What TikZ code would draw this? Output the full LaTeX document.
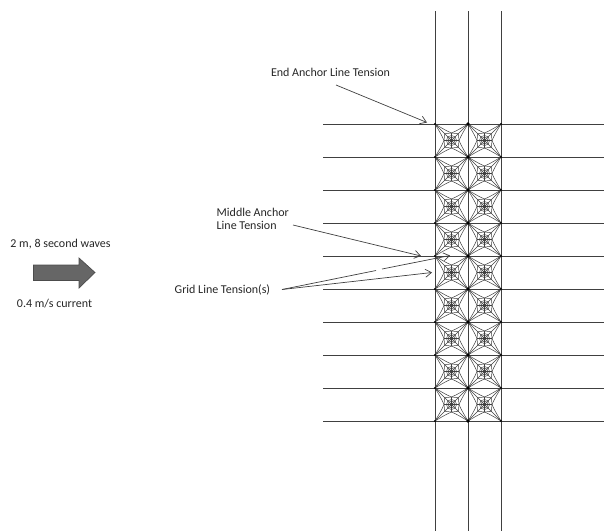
\documentclass[tikz,border=0pt]{standalone}
\usepackage{fontspec}
\setmainfont{Carlito}
\usetikzlibrary{arrows.meta}
\definecolor{ln}{HTML}{404040}
\definecolor{txt}{HTML}{262626}
\definecolor{flow}{HTML}{666666}
\tikzset{
  x=1pt,y=1pt,
  grid/.style={draw=ln,line width=1pt},
  web/.style={draw=ln,line width=0.5pt},
  lead/.style={draw=ln,line width=0.7pt,-{Straight Barb[length=6pt,width=8pt,line width=0.7pt]}},
  leadplain/.style={draw=ln,line width=0.7pt},
  lbl/.style={font=\fontsize{12}{13}\selectfont,text=txt,inner sep=0pt,align=left},
  knot/.style={circle,fill=black,inner sep=0pt,minimum size=#1}
}
\begin{document}
\begin{tikzpicture}
\useasboundingbox (0,0) rectangle (605,-531);
% verticals
\foreach \i/\x in {a/435,b/468,c/501}{
  \coordinate (\i top) at (\x,-11);
  \coordinate (\i bot) at (\x,-531);
  \draw[grid] (\i top) -- (\i bot);
}
% horizontals
\foreach \j in {0,...,9}{
  \coordinate (hl\j) at (323,-124-33*\j);
  \coordinate (hr\j) at (604,-124-33*\j);
  \draw[grid] (hl\j) -- (hr\j);
}
% cell webs
\foreach \cx in {451.5,484.5}{
\foreach \k in {0,...,8}{
\begin{scope}[shift={(\cx,-140.5-33*\k)}]
  \foreach \r in {0,90,180,270}{
  \begin{scope}[rotate=\r]
    \draw[web] (16.5,16.5) -- (0,0);
    \draw[web] (7.5,0) -- (0,0);
    \draw[web] (1.6,0) -- (1.2,1.2) -- (0,1.6);
    \draw[web] (3.2,0) -- (2.4,2.4) -- (0,3.2);
    \draw[web] (5,0) -- (3.7,3.7) -- (0,5);
    \draw[web] (7.5,0) .. controls (7.3,2.5) and (7,4.5) .. (6.8,6.8) .. controls (4.5,7) and (2.5,7.3) .. (0,7.5);
    \draw[web] (16.5,16.5) .. controls (13.5,11.5) and (10,6) .. (7.5,0);
    \draw[web] (16.5,16.5) .. controls (11.5,13.5) and (6,10) .. (0,7.5);
  \end{scope}
  }
\end{scope}
}}
% knots
\foreach \k in {0,...,9}{
  \node[knot=2.4pt] (kl\k) at (435,-124-33*\k) {};
  \node[knot=3.6pt] (km\k) at (468,-124-33*\k) {};
  \node[knot=2.4pt] (kr\k) at (501,-124-33*\k) {};
}
% labels
\node[lbl,anchor=center] (tEnd) at (330.5,-72.5) {End Anchor Line Tension};
\node[lbl,anchor=west] (tMid) at (216.5,-219) {Middle Anchor\\Line Tension};
\node[lbl,anchor=west] (tGrid) at (174.5,-289.5) {Grid Line Tension(s)};
\node[lbl,anchor=center] (tWave) at (60.5,-244.5) {2 m, 8 second waves};
\node[lbl,anchor=center] (tCur) at (54.5,-304) {0.4 m/s current};
% leaders
\coordinate (eEnd) at (427,-122.5);
\coordinate (sEnd) at (336,-85);
\coordinate (sMid) at (293,-225);
\coordinate (eMid) at (421,-256);
\coordinate (sGrid) at (282,-289.5);
\coordinate (gapA) at (376,-270.5);
\coordinate (gapB) at (382,-269);
\coordinate (eGridA) at (450,-255.5);
\coordinate (eGridB) at (432,-272.5);
\draw[lead] (sEnd) -- (eEnd);
\draw[lead] (sMid) -- (eMid);
\draw[leadplain] (sGrid) -- (gapA);
\draw[lead] (gapB) -- (eGridA);
\draw[lead] (sGrid) -- (eGridB);
% flow arrow
\draw[draw=flow!75!black,line width=0.7pt,fill=flow]
  (33.5,-265) -- (79,-265) -- (79,-258) -- (95,-272.5) -- (79,-288) -- (79,-280.5) -- (33.5,-280.5) -- cycle;
\end{tikzpicture}
\end{document}
